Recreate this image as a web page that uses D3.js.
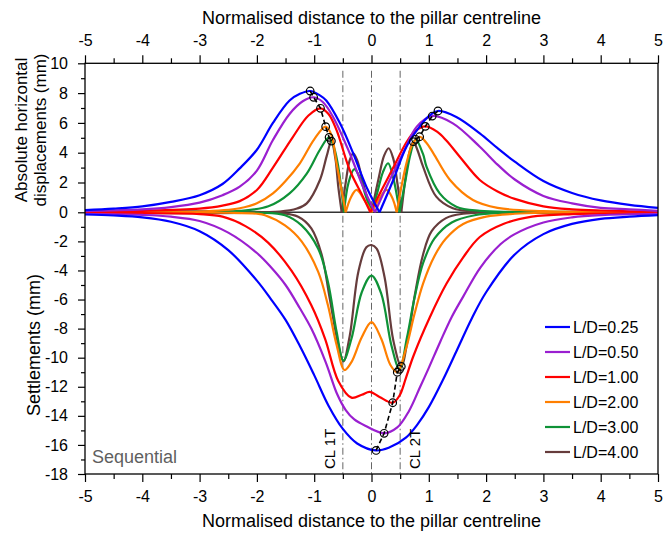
<!DOCTYPE html>
<html>
<head>
<meta charset="utf-8">
<script src="https://cdn.jsdelivr.net/npm/d3@7"></script>
<style>
  body { margin: 0; background: #fff; }
  svg { display: block; font-family: "Liberation Sans", Arial, sans-serif; }
</style>
</head>
<body>
<svg id="chart"></svg>
<script>
// legend labels, one per pillar geometry
const labels = ["L/D=0.25", "L/D=0.50", "L/D=1.00", "L/D=2.00", "L/D=3.00", "L/D=4.00"];

// absolute horizontal displacements (mm), [x, value]
const topLD025 = [[-5,0.15],[-4.5,0.25],[-4,0.4],[-3.5,0.7],[-3,1.15],[-2.6,1.9],[-2.3,2.95],[-2,4.2],[-1.72,6.0],[-1.43,7.5],[-1.25,7.95],[-1.07,8.14],[-0.9,7.85],[-0.79,7.5],[-0.55,5.97],[-0.32,3.96],[-0.09,1.72],[0.14,0],[0.38,2.17],[0.61,4.4],[0.84,5.75],[1.0,6.45],[1.16,6.8],[1.48,6.4],[1.89,5.3],[2.2,4.3],[2.5,3.4],[3,2.1],[3.5,1.3],[4,0.8],[4.5,0.5],[5,0.3]];
const topLD050 = [[-5,0.1],[-4,0.2],[-3.5,0.35],[-3,0.65],[-2.6,1.15],[-2.3,1.72],[-2,2.8],[-1.72,4.85],[-1.43,6.6],[-1.2,7.45],[-1.01,7.72],[-0.85,7.4],[-0.67,6.4],[-0.38,3.96],[-0.15,1.72],[0.06,0],[0.26,1.7],[0.55,3.96],[0.79,5.75],[1.06,6.46],[1.42,5.97],[1.89,4.4],[2.2,3.2],[2.5,2.2],[3,1.1],[3.5,0.6],[4,0.3],[4.5,0.2],[5,0.1]];
const topLD100 = [[-5,0.05],[-4,0.1],[-3,0.25],[-2.6,0.45],[-2.3,0.75],[-2,1.5],[-1.72,3.0],[-1.37,5.07],[-1.1,6.5],[-0.89,6.98],[-0.75,6.6],[-0.61,5.52],[-0.38,2.84],[-0.15,1.05],[-0.02,0],[0.15,1.3],[0.38,3.0],[0.61,4.7],[0.76,5.45],[0.94,5.77],[1.15,5.4],[1.31,4.8],[1.54,3.73],[1.89,2.17],[2.2,1.4],[2.5,0.9],[3,0.4],[3.5,0.2],[4,0.12],[5,0.05]];
const topLD200 = [[-5,0.02],[-3,0.05],[-2.3,0.27],[-2,0.6],[-1.72,1.27],[-1.5,2.1],[-1.25,3.29],[-1.0,4.9],[-0.8,5.75],[-0.7,5.2],[-0.61,3.29],[-0.45,0],[-0.36,1.0],[-0.26,1.5],[-0.12,0.8],[0,0],[0.12,0.8],[0.26,1.5],[0.36,1.0],[0.44,0],[0.61,3.29],[0.72,4.6],[0.84,5.07],[0.95,4.7],[1.08,3.96],[1.37,2.17],[1.77,0.83],[2.2,0.3],[3,0.08],[5,0.02]];
const topLD300 = [[-5,0.01],[-2.3,0.1],[-1.8,0.4],[-1.43,1.27],[-1.13,2.6],[-0.9,4.2],[-0.74,5.03],[-0.65,4.3],[-0.58,3.06],[-0.48,0],[-0.4,2.0],[-0.3,2.9],[-0.2,2.3],[-0.1,1.1],[0,0],[0.1,1.3],[0.2,2.7],[0.29,3.29],[0.38,2.3],[0.49,0],[0.6,2.3],[0.68,3.9],[0.77,4.9],[0.9,3.9],[0.96,3.06],[1.19,1.27],[1.48,0.38],[1.89,0.1],[2.5,0.03],[5,0.01]];
const topLD400 = [[-5,0],[-1.6,0.05],[-1.3,0.25],[-1.13,0.6],[-0.9,2.17],[-0.78,3.8],[-0.7,4.78],[-0.63,3.6],[-0.58,1.72],[-0.52,0],[-0.45,2.0],[-0.38,3.5],[-0.32,3.96],[-0.25,3.5],[-0.15,2.0],[0,0],[0.12,2.2],[0.22,3.8],[0.3,4.3],[0.38,3.6],[0.45,2.0],[0.52,0],[0.6,2.5],[0.66,4.0],[0.73,4.74],[0.8,4.2],[0.9,3.06],[1.13,1.05],[1.42,0.27],[1.8,0.05],[5,0]];

// settlements (mm), [x, value]
const setLD025 = [[-5,-0.15],[-4.5,-0.22],[-4,-0.35],[-3.5,-0.65],[-3,-1.3],[-2.5,-2.6],[-2,-4.7],[-1.75,-6.0],[-1.5,-7.4],[-1.25,-9.2],[-1,-11.2],[-0.75,-13.3],[-0.5,-14.9],[-0.25,-15.9],[0.08,-16.38],[0.3,-16.2],[0.6,-15.5],[0.8,-14.6],[1.0,-13.4],[1.25,-11.5],[1.5,-9.4],[1.75,-7.3],[2,-5.5],[2.5,-2.9],[3,-1.5],[3.5,-0.8],[4,-0.45],[4.5,-0.3],[5,-0.2]];
const setLD050 = [[-5,-0.1],[-4,-0.18],[-3.5,-0.3],[-3,-0.6],[-2.5,-1.4],[-2,-2.8],[-1.75,-3.8],[-1.5,-5.0],[-1.25,-6.6],[-1.05,-8.0],[-0.8,-10.3],[-0.6,-12.5],[-0.45,-13.6],[-0.3,-14.25],[-0.1,-14.7],[0.22,-15.2],[0.45,-14.8],[0.65,-13.7],[0.85,-12.0],[1.0,-10.7],[1.2,-8.9],[1.4,-7.2],[1.6,-5.8],[1.9,-3.8],[2.25,-2.2],[2.5,-1.5],[3,-0.7],[3.5,-0.35],[4,-0.2],[5,-0.1]];
const setLD100 = [[-5,-0.05],[-4,-0.06],[-3,-0.12],[-2.6,-0.3],[-2.2,-0.95],[-1.8,-2.1],[-1.4,-4.0],[-1.05,-6.4],[-0.81,-8.7],[-0.58,-11.6],[-0.35,-12.75],[-0.17,-12.55],[-0.03,-12.35],[0.14,-12.7],[0.37,-13.1],[0.49,-12.6],[0.6,-11.4],[0.73,-9.9],[1.02,-7.2],[1.31,-4.9],[1.6,-3.1],[1.89,-1.7],[2.3,-0.8],[2.8,-0.3],[3.5,-0.12],[5,-0.05]];
const setLD200 = [[-5,0],[-2.5,-0.03],[-2,-0.1],[-1.86,-0.2],[-1.51,-0.9],[-1.22,-2.0],[-0.93,-4.1],[-0.76,-6.4],[-0.61,-9.1],[-0.47,-10.85],[-0.35,-10.3],[-0.17,-8.6],[0,-7.55],[0.17,-8.7],[0.33,-10.5],[0.45,-11.0],[0.6,-9.4],[0.75,-7.0],[0.9,-4.9],[1.1,-3.0],[1.3,-1.8],[1.6,-0.8],[2,-0.3],[2.5,-0.1],[3,-0.03],[5,0]];
const setLD300 = [[-5,0],[-2,-0.02],[-1.51,-0.2],[-1.22,-0.9],[-0.93,-2.5],[-0.76,-4.8],[-0.61,-8.2],[-0.49,-10.2],[-0.35,-8.7],[-0.17,-5.5],[0,-4.35],[0.17,-5.6],[0.35,-9.2],[0.49,-10.8],[0.62,-8.6],[0.75,-5.9],[0.9,-3.5],[1.1,-1.8],[1.4,-0.7],[1.8,-0.2],[2.3,-0.03],[5,0]];
const setLD400 = [[-5,0],[-1.6,-0.05],[-1.28,-0.3],[-1.05,-1.1],[-0.87,-2.9],[-0.73,-5.9],[-0.58,-9.1],[-0.49,-10.25],[-0.38,-8.5],[-0.23,-4.1],[-0.09,-2.4],[0,-2.25],[0.09,-2.5],[0.23,-4.5],[0.38,-8.8],[0.52,-10.6],[0.63,-8.8],[0.76,-5.6],[0.9,-2.9],[1.05,-1.3],[1.3,-0.4],[1.6,-0.1],[2,-0.02],[5,0]];

// peak / trough positions marked with circles, same order as labels
const peaksLeft = [[-1.07,8.14],[-1.01,7.72],[-0.89,6.98],[-0.8,5.75],[-0.74,5.03],[-0.7,4.78]];
const peaksRight = [[1.16,6.8],[1.06,6.46],[0.94,5.77],[0.84,5.07],[0.77,4.9],[0.73,4.74]];
const troughs = [[0.08,-16.38],[0.22,-15.2],[0.37,-13.1],[0.45,-11.0],[0.49,-10.8],[0.52,-10.6]];

// tunnel centrelines
const centrelines = [-0.5, 0, 0.5];
const clLabels = [{ x: -0.5, text: "CL 1T", dx: -8 }, { x: 0.5, text: "CL 2T", dx: 20 }];

const topSeries = [topLD025, topLD050, topLD100, topLD200, topLD300, topLD400];
const setSeries = [setLD025, setLD050, setLD100, setLD200, setLD300, setLD400];
const colors = ["#0000ff", "#9a1fd0", "#ff0000", "#ff7f00", "#0e9237", "#663c3c"];

const width = 672, height = 533;
const margin = { top: 63.3, right: 14, bottom: 59, left: 85 };

const svg = d3.select("#chart").attr("width", width).attr("height", height);

const x = d3.scaleLinear().domain([-5, 5]).range([margin.left, width - margin.right]);
// the two panels share one axis but the top part is drawn slightly taller
const y = d3.scaleLinear().domain([-18, 0, 10]).range([height - margin.bottom, 212.3, margin.top]);

const x0 = margin.left, x1 = width - margin.right;
const y0 = margin.top, y1 = height - margin.bottom;

// centrelines
svg.append("g")
  .selectAll("line")
  .data(centrelines)
  .join("line")
  .attr("x1", d => x(d)).attr("x2", d => x(d))
  .attr("y1", y(9.5)).attr("y2", y1)
  .attr("stroke", "#666")
  .attr("stroke-width", 1)
  .attr("stroke-dasharray", "7,3,1.5,3");

// zero line
svg.append("line")
  .attr("x1", x0).attr("x2", x1)
  .attr("y1", y(0)).attr("y2", y(0))
  .attr("stroke", "#333")
  .attr("stroke-width", 1.6);

const line = d3.line()
  .x(d => x(d[0]))
  .y(d => y(d[1]))
  .curve(d3.curveCatmullRom.alpha(0.5));

// split at interior zeros so the |u| curves keep their sharp V
function splitAtZeros(pts) {
  const parts = [];
  let cur = [pts[0]];
  for (let i = 1; i < pts.length; i++) {
    cur.push(pts[i]);
    if (pts[i][1] === 0 && i < pts.length - 1) {
      parts.push(cur);
      cur = [pts[i]];
    }
  }
  parts.push(cur);
  return parts;
}

const order = d3.range(labels.length).reverse();

const curves = svg.append("g").attr("fill", "none").attr("stroke-width", 2.2);
order.forEach(i => {
  splitAtZeros(topSeries[i]).forEach(seg => {
    curves.append("path").attr("d", line(seg)).attr("stroke", colors[i]);
  });
  curves.append("path").attr("d", line(setSeries[i])).attr("stroke", colors[i]);
});

// dashed links between the markers
[peaksLeft, peaksRight, troughs].forEach(pts => {
  svg.append("path")
    .attr("d", d3.line().x(d => x(d[0])).y(d => y(d[1]))(pts))
    .attr("fill", "none")
    .attr("stroke", "#000")
    .attr("stroke-width", 1.6)
    .attr("stroke-dasharray", "5,3");
  svg.append("g")
    .selectAll("circle")
    .data(pts)
    .join("circle")
    .attr("cx", d => x(d[0]))
    .attr("cy", d => y(d[1]))
    .attr("r", 3.8)
    .attr("fill", "none")
    .attr("stroke", "#000")
    .attr("stroke-width", 1.2);
});

// frame
svg.append("rect")
  .attr("x", x0).attr("y", y0)
  .attr("width", x1 - x0).attr("height", y1 - y0)
  .attr("fill", "none")
  .attr("stroke", "#000")
  .attr("stroke-width", 1.3);

const xMajor = d3.range(-5, 5.01, 1);
const xMinor = d3.range(-4.5, 5, 1);
const yMajor = d3.range(-18, 10.01, 2);
const yMinor = d3.range(-17, 10, 2);
const plain = d => String(d);

function styleAxis(g) {
  g.select(".domain").remove();
  g.selectAll("line").attr("stroke", "#000").attr("stroke-width", 1.2);
  g.selectAll("text").attr("fill", "#000");
  g.attr("font-size", 16).attr("font-family", "Liberation Sans, Arial, sans-serif");
}

svg.append("g")
  .attr("transform", `translate(0,${y0})`)
  .call(d3.axisTop(x).tickValues(xMajor).tickSize(8).tickPadding(9).tickFormat(plain))
  .call(styleAxis);
svg.append("g")
  .attr("transform", `translate(0,${y0})`)
  .call(d3.axisTop(x).tickValues(xMinor).tickSize(5).tickFormat(""))
  .call(styleAxis);

svg.append("g")
  .attr("transform", `translate(0,${y1})`)
  .call(d3.axisBottom(x).tickValues(xMajor).tickSize(8).tickPadding(9).tickFormat(plain))
  .call(styleAxis);
svg.append("g")
  .attr("transform", `translate(0,${y1})`)
  .call(d3.axisBottom(x).tickValues(xMinor).tickSize(5).tickFormat(""))
  .call(styleAxis);

svg.append("g")
  .attr("transform", `translate(${x0},0)`)
  .call(d3.axisLeft(y).tickValues(yMajor).tickSize(7).tickPadding(10).tickFormat(plain))
  .call(styleAxis);
svg.append("g")
  .attr("transform", `translate(${x0},0)`)
  .call(d3.axisLeft(y).tickValues(yMinor).tickSize(4).tickFormat(""))
  .call(styleAxis);

// axis titles
svg.append("text")
  .attr("x", (x0 + x1) / 2).attr("y", 24)
  .attr("text-anchor", "middle").attr("font-size", 18)
  .text("Normalised distance to the pillar centreline");
svg.append("text")
  .attr("x", (x0 + x1) / 2).attr("y", 527)
  .attr("text-anchor", "middle").attr("font-size", 18)
  .text("Normalised distance to the pillar centreline");

svg.append("text")
  .attr("transform", "translate(27,130) rotate(-90)")
  .attr("text-anchor", "middle").attr("font-size", 17)
  .text("Absolute horizontal");
svg.append("text")
  .attr("transform", "translate(46,130) rotate(-90)")
  .attr("text-anchor", "middle").attr("font-size", 17)
  .text("displacements (mm)");
svg.append("text")
  .attr("transform", "translate(40,345) rotate(-90)")
  .attr("text-anchor", "middle").attr("font-size", 18)
  .text("Settlements (mm)");

// centreline labels
svg.append("g")
  .selectAll("text")
  .data(clLabels)
  .join("text")
  .attr("transform", d => `translate(${x(d.x) + d.dx},469) rotate(-90)`)
  .attr("font-size", 15)
  .text(d => d.text);

svg.append("text")
  .attr("x", 92).attr("y", 463)
  .attr("font-size", 18)
  .attr("fill", "#5f5f5f")
  .text("Sequential");

// legend
const legend = svg.append("g").attr("transform", "translate(545,327)");
const rows = legend.selectAll("g")
  .data(labels)
  .join("g")
  .attr("transform", (d, i) => `translate(0,${i * 25})`);
rows.append("line")
  .attr("x1", 0).attr("x2", 25)
  .attr("stroke", (d, i) => colors[i])
  .attr("stroke-width", 2.2);
rows.append("text")
  .attr("x", 28).attr("y", 6)
  .attr("font-size", 16)
  .text(d => d);
</script>
</body>
</html>
